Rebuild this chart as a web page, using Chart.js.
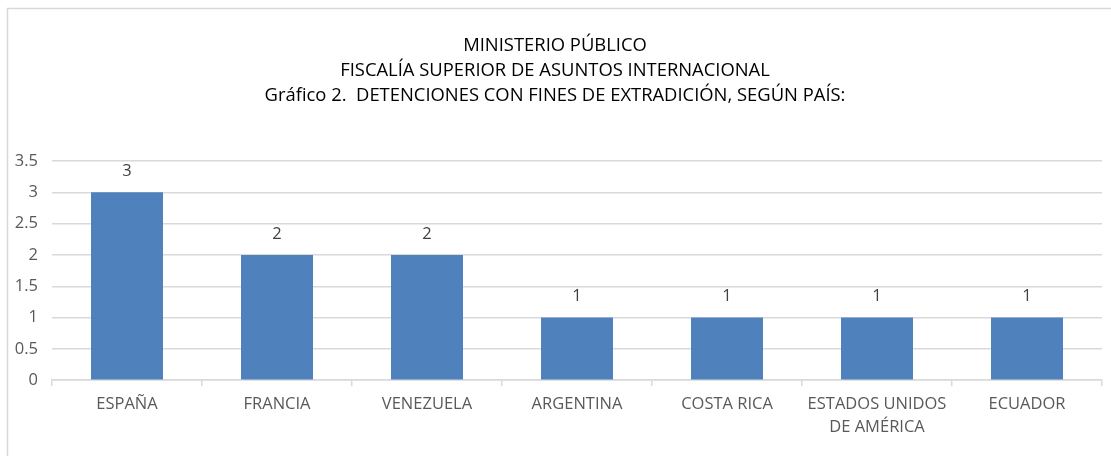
<!DOCTYPE html>
<html>
<head>
<meta charset="utf-8">
<script src="https://cdn.jsdelivr.net/npm/chart.js@4"></script>
<style>
  html, body { margin: 0; padding: 0; background: #fff; }
  #wrap { width: 1111px; height: 456px; position: relative; }
</style>
</head>
<body>
<div id="wrap"><canvas id="chart"></canvas></div>
<script>
const titleLines = [
    'MINISTERIO PÚBLICO',
    'FISCALÍA SUPERIOR DE ASUNTOS INTERNACIONAL',
    'Gráfico 2.  DETENCIONES CON FINES DE EXTRADICIÓN, SEGÚN PAÍS:'
];
const countries = [
    'ESPAÑA',
    'FRANCIA',
    'VENEZUELA',
    'ARGENTINA',
    'COSTA RICA',
    ['ESTADOS UNIDOS', 'DE AMÉRICA'],
    'ECUADOR'
];
const detentions = [3, 2, 2, 1, 1, 1, 1];

const FONT = '"Open Sans", "Liberation Sans", sans-serif';

// frame line on the left and top (rest is cropped in the source image)
const framePlugin = {
    id: 'frame',
    beforeDraw(chart) {
        const ctx = chart.ctx;
        ctx.save();
        ctx.strokeStyle = '#d9d9d9';
        ctx.lineWidth = 1.5;
        ctx.beginPath();
        ctx.moveTo(7.5, 460);
        ctx.lineTo(7.5, 8.5);
        ctx.lineTo(1120, 8.5);
        ctx.stroke();
        ctx.restore();
    }
};

// value labels above bars
const valueLabels = {
    id: 'valueLabels',
    afterDatasetsDraw(chart) {
        const ctx = chart.ctx;
        const meta = chart.getDatasetMeta(0);
        ctx.save();
        ctx.font = '16.5px ' + FONT;
        ctx.fillStyle = '#404040';
        ctx.textAlign = 'center';
        ctx.textBaseline = 'middle';
        meta.data.forEach((bar, i) => {
            ctx.fillText(String(chart.data.datasets[0].data[i]), bar.x, bar.y - 21);
        });
        ctx.restore();
    }
};

new Chart(document.getElementById('chart'), {
    type: 'bar',
    data: {
        labels: countries,
        datasets: [{
            data: detentions,
            backgroundColor: '#4f81bd',
            borderWidth: 0,
            categoryPercentage: 1,
            barPercentage: 0.48
        }]
    },
    options: {
        responsive: true,
        maintainAspectRatio: false,
        animation: false,
        layout: { padding: { left: 8, right: 9, top: 8, bottom: 11 } },
        plugins: {
            legend: { display: false },
            tooltip: { enabled: false },
            title: {
                display: true,
                text: titleLines,
                color: '#000',
                font: { family: FONT, size: 18.4, weight: 'normal', lineHeight: 1.36 },
                padding: { top: 25, bottom: 53 }
            }
        },
        scales: {
            y: {
                min: 0,
                max: 3.5,
                ticks: {
                    stepSize: 0.5,
                    color: '#595959',
                    padding: 14,
                    font: { family: FONT, size: 16.5 },
                    callback: v => String(v)
                },
                grid: { color: '#d9d9d9', lineWidth: 1.5, drawTicks: false },
                border: { display: false },
                afterFit(scale) { scale.width = 44; }
            },
            x: {
                offset: true,
                grid: {
                    offset: true,
                    drawOnChartArea: false,
                    drawTicks: true,
                    tickLength: 6,
                    color: '#d9d9d9',
                    lineWidth: 1.5
                },
                border: { display: true, color: '#d9d9d9', width: 1.5 },
                ticks: {
                    color: '#595959',
                    padding: 6,
                    maxRotation: 0,
                    autoSkip: false,
                    font: { family: FONT, size: 16.5, lineHeight: 1.42 }
                }
            }
        }
    },
    plugins: [framePlugin, valueLabels]
});
</script>
</body>
</html>
